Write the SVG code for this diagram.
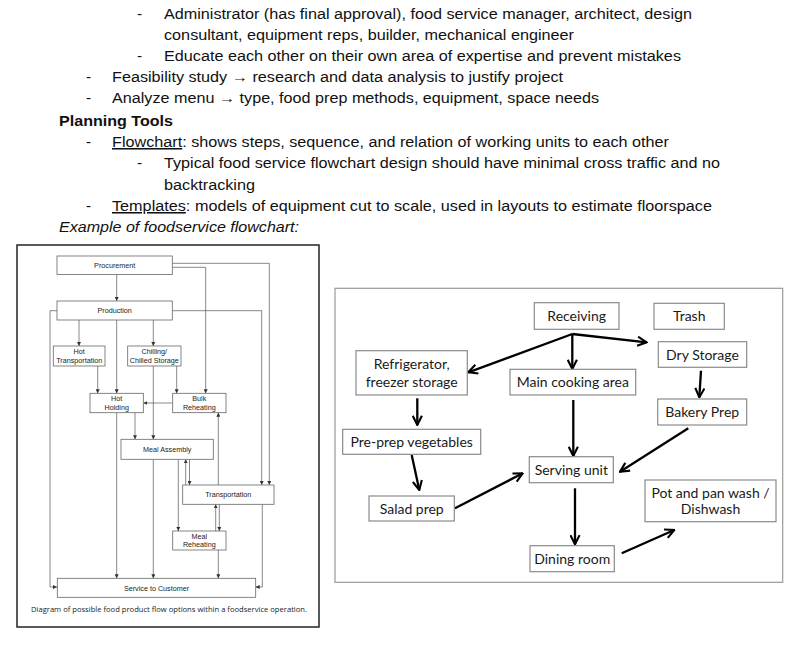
<svg xmlns="http://www.w3.org/2000/svg" width="800" height="645" viewBox="0 0 800 645">
<defs>
<style>
.doc{font-family:"Liberation Sans",Arial,sans-serif;font-size:15.4px;fill:#111}
.b{font-weight:bold}
.i{font-style:italic}
.u{text-decoration:underline}
.lb{fill:#fff;stroke:#666;stroke-width:0.8}
.lt{font-family:"Liberation Sans",Arial,sans-serif;font-size:7.2px;fill:#222;text-anchor:middle}
.lc{fill:none;stroke:#555;stroke-width:0.7}
.rb{fill:#fff;stroke:#8a8a8a;stroke-width:1.2}
.rt{font-family:Lato,"Open Sans",sans-serif;font-size:14px;fill:#1a1a1a;text-anchor:middle}
.rc{fill:none;stroke:#000;stroke-width:2.3}
</style>
<marker id="la" viewBox="0 0 6 6" refX="6" refY="3" markerWidth="4" markerHeight="4" markerUnits="userSpaceOnUse" orient="auto"><path d="M0,0 L6,3 L0,6 Z" fill="#333"/></marker>
<marker id="ra" viewBox="0 0 12 12" refX="11" refY="6" markerWidth="11" markerHeight="11" markerUnits="userSpaceOnUse" orient="auto"><path d="M1,1 L11,6 L1,11" fill="none" stroke="#000" stroke-width="2.3"/></marker>
</defs>
<rect width="800" height="645" fill="#fff"/>

<g id="text">
<text class="doc" x="137" y="19">-</text>
<text class="doc" x="164" y="19" textLength="528" lengthAdjust="spacingAndGlyphs">Administrator (has final approval), food service manager, architect, design</text>
<text class="doc" x="164" y="40" textLength="410" lengthAdjust="spacingAndGlyphs">consultant, equipment reps, builder, mechanical engineer</text>
<text class="doc" x="137" y="61">-</text>
<text class="doc" x="164" y="61" textLength="517" lengthAdjust="spacingAndGlyphs">Educate each other on their own area of expertise and prevent mistakes</text>
<text class="doc" x="86" y="82">-</text>
<text class="doc" x="112" y="82" textLength="451" lengthAdjust="spacingAndGlyphs">Feasibility study → research and data analysis to justify project</text>
<text class="doc" x="86" y="103">-</text>
<text class="doc" x="112" y="103" textLength="487" lengthAdjust="spacingAndGlyphs">Analyze menu → type, food prep methods, equipment, space needs</text>
<text class="doc b" x="59" y="125.5" textLength="114" lengthAdjust="spacingAndGlyphs">Planning Tools</text>
<text class="doc" x="86" y="147">-</text>
<text class="doc" x="112" y="147" textLength="557" lengthAdjust="spacingAndGlyphs"><tspan class="u">Flowchart</tspan>: shows steps, sequence, and relation of working units to each other</text>
<text class="doc" x="137" y="168">-</text>
<text class="doc" x="164" y="168" textLength="556" lengthAdjust="spacingAndGlyphs">Typical food service flowchart design should have minimal cross traffic and no</text>
<text class="doc" x="164" y="190" textLength="91" lengthAdjust="spacingAndGlyphs">backtracking</text>
<text class="doc" x="86" y="211">-</text>
<text class="doc" x="112" y="211" textLength="600" lengthAdjust="spacingAndGlyphs"><tspan class="u">Templates</tspan>: models of equipment cut to scale, used in layouts to estimate floorspace</text>
<text class="doc i" x="59" y="232" textLength="240" lengthAdjust="spacingAndGlyphs">Example of foodservice flowchart:</text>
</g>

<g id="left-diagram">
<rect x="17" y="245" width="302" height="382" fill="#fff" stroke="#222" stroke-width="1.5"/>
<g id="l-connectors">
<path class="lc" marker-end="url(#la)" d="M116.7,274.5 V301"/>
<path class="lc" marker-end="url(#la)" d="M57,310.7 H50 V587 H57"/>
<path class="lc" marker-end="url(#la)" d="M79,320 V346"/>
<path class="lc" marker-end="url(#la)" d="M116.7,320 V393.3"/>
<path class="lc" marker-end="url(#la)" d="M153.3,320 V346"/>
<path class="lc" marker-end="url(#la)" d="M97.7,366 V393.3"/>
<path class="lc" marker-end="url(#la)" d="M153.3,366 V439.3"/>
<path class="lc" marker-end="url(#la)" d="M176.7,366 V393.3"/>
<path class="lc" marker-end="url(#la)" d="M172.3,267.3 H205.7 V393.3"/>
<path class="lc" marker-end="url(#la)" d="M172.3,263.3 H269.3 V485"/>
<path class="lc" marker-end="url(#la)" d="M172.3,310.7 H261.7 V485"/>
<path class="lc" marker-end="url(#la)" d="M172.7,403 H143.3"/>
<path class="lc" marker-end="url(#la)" d="M135,412.7 V439.3"/>
<path class="lc" marker-end="url(#la)" d="M116.7,412.7 V578.3"/>
<path class="lc" marker-end="url(#la)" d="M153.3,459.3 V578.3"/>
<path class="lc" marker-end="url(#la)" d="M218.3,485 V412.7"/>
<path class="lc" marker-end="url(#la)" d="M185.7,485 V459.3"/>
<path class="lc" marker-end="url(#la)" d="M189.5,459.3 V485"/>
<path class="lc" marker-end="url(#la)" d="M178.3,459.3 V531"/>
<path class="lc" marker-end="url(#la)" d="M215.7,531 V504.3"/>
<path class="lc" marker-end="url(#la)" d="M219.3,504.3 V531"/>
<path class="lc" marker-end="url(#la)" d="M218.3,550 V578.3"/>
<path class="lc" marker-end="url(#la)" d="M262.3,504.3 V587 H255.7"/>
</g>
<g id="procurement"><rect class="lb" x="57" y="256" width="115.3" height="18.5"/><text class="lt" x="114.7" y="267.8">Procurement</text></g>
<g id="production"><rect class="lb" x="57" y="301" width="115.3" height="19"/><text class="lt" x="114.7" y="313">Production</text></g>
<g id="hot-transportation"><rect class="lb" x="53.3" y="346" width="51.7" height="20"/><text class="lt" x="79.2" y="354">Hot</text><text class="lt" x="79.2" y="362.5">Transportation</text></g>
<g id="chilling"><rect class="lb" x="127.7" y="346" width="53.3" height="20"/><text class="lt" x="154.3" y="354">Chilling/</text><text class="lt" x="154.3" y="362.5">Chilled Storage</text></g>
<g id="hot-holding"><rect class="lb" x="90" y="393.3" width="53.3" height="19.4"/><text class="lt" x="116.7" y="401.3">Hot</text><text class="lt" x="116.7" y="409.8">Holding</text></g>
<g id="bulk-reheating"><rect class="lb" x="172.7" y="393.3" width="53.3" height="19.4"/><text class="lt" x="199.3" y="401.3">Bulk</text><text class="lt" x="199.3" y="409.8">Reheating</text></g>
<g id="meal-assembly"><rect class="lb" x="121" y="439.3" width="92.3" height="20"/><text class="lt" x="167.2" y="451.8">Meal Assembly</text></g>
<g id="transportation"><rect class="lb" x="182.7" y="485" width="91.3" height="19.3"/><text class="lt" x="228.3" y="497">Transportation</text></g>
<g id="meal-reheating"><rect class="lb" x="172.7" y="531" width="53.3" height="19"/><text class="lt" x="199.3" y="538.8">Meal</text><text class="lt" x="199.3" y="547.3">Reheating</text></g>
<g id="service"><rect class="lb" x="57.3" y="578.3" width="198.4" height="19"/><text class="lt" x="156.5" y="590.5">Service to Customer</text></g>
<text x="31" y="611.5" font-family="'Open Sans','Liberation Sans',sans-serif" font-size="7.3" fill="#222" textLength="276" lengthAdjust="spacingAndGlyphs">Diagram of possible food product flow options within a foodservice operation.</text>
</g>

<g id="right-diagram">
<rect x="335" y="288.3" width="447.7" height="294" fill="#fff" stroke="#999" stroke-width="1.2"/>
<g id="r-connectors">
<path class="rc" marker-end="url(#ra)" d="M572.3,334 L468.3,372.3"/>
<path class="rc" marker-end="url(#ra)" d="M572.3,334 V369"/>
<path class="rc" marker-end="url(#ra)" d="M572.3,334 L646.7,342.3"/>
<path class="rc" marker-end="url(#ra)" d="M417.3,398.3 V425"/>
<path class="rc" marker-end="url(#ra)" d="M701,370.7 L699.3,397.3"/>
<path class="rc" marker-end="url(#ra)" d="M573.3,400 V456"/>
<path class="rc" marker-end="url(#ra)" d="M688.3,428.3 L620,471.7"/>
<path class="rc" marker-end="url(#ra)" d="M411.7,455 L419.3,490"/>
<path class="rc" marker-end="url(#ra)" d="M455,508.3 L522.7,473.3"/>
<path class="rc" marker-end="url(#ra)" d="M575,488.3 V544.3"/>
<path class="rc" marker-end="url(#ra)" d="M621.7,553.3 L674.3,530"/>
</g>
<g id="receiving"><rect class="rb" x="534.3" y="302.7" width="84.7" height="26.6"/><text class="rt" x="576.7" y="321">Receiving</text></g>
<g id="trash"><rect class="rb" x="654" y="303.3" width="70.3" height="26"/><text class="rt" x="689.2" y="321.3">Trash</text></g>
<g id="dry-storage"><rect class="rb" x="658.3" y="341.7" width="88.4" height="25.6"/><text class="rt" x="702.5" y="359.5">Dry Storage</text></g>
<g id="refrigerator"><rect class="rb" x="356" y="350.7" width="111.3" height="44.3"/><text class="rt" x="411.7" y="368.5">Refrigerator,</text><text class="rt" x="411.7" y="386.5">freezer storage</text></g>
<g id="main-cooking"><rect class="rb" x="510" y="369.3" width="125.7" height="25.7"/><text class="rt" x="572.8" y="387.2">Main cooking area</text></g>
<g id="bakery-prep"><rect class="rb" x="657.7" y="399" width="89" height="26"/><text class="rt" x="702.2" y="417">Bakery Prep</text></g>
<g id="pre-prep"><rect class="rb" x="342.7" y="429.3" width="138" height="25"/><text class="rt" x="411.7" y="447">Pre-prep vegetables</text></g>
<g id="serving-unit"><rect class="rb" x="529.3" y="456.7" width="84" height="26"/><text class="rt" x="571.3" y="474.7">Serving unit</text></g>
<g id="pot-pan"><rect class="rb" x="645" y="480" width="131" height="41.7"/><text class="rt" x="710.5" y="497.5">Pot and pan wash /</text><text class="rt" x="710.5" y="513.5">Dishwash</text></g>
<g id="salad-prep"><rect class="rb" x="369" y="496" width="85.3" height="25"/><text class="rt" x="411.7" y="513.7">Salad prep</text></g>
<g id="dining-room"><rect class="rb" x="530" y="545.7" width="84.3" height="26"/><text class="rt" x="572.2" y="563.6">Dining room</text></g>
</g>
</svg>
